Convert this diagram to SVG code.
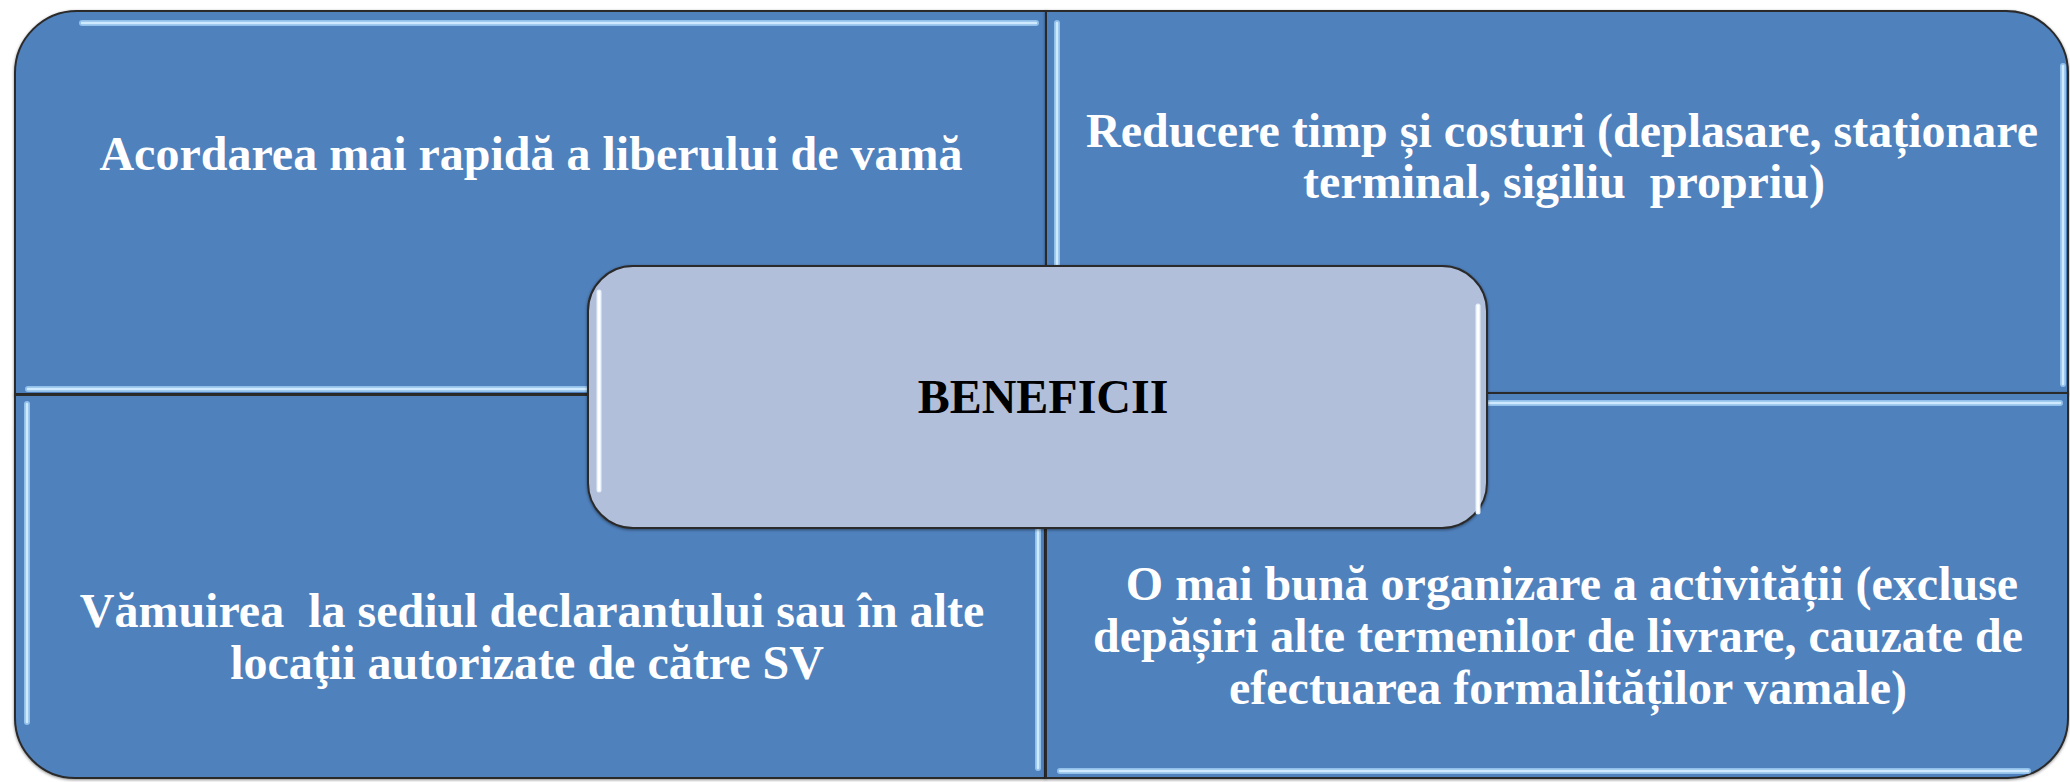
<svg xmlns="http://www.w3.org/2000/svg" width="2070" height="782" viewBox="0 0 2070 782">
  <defs>
    <style>
      .quad { fill: #4F81BD; stroke: #2a2a2a; stroke-width: 2; }
      .center { fill: #B2BFDA; stroke: #2a2a2a; stroke-width: 2; }
      .hl { stroke: #9CCBF2; stroke-width: 6; stroke-linecap: round; fill: none; stroke-opacity: 0.85; }
      .hlc { stroke: #CFEAFF; stroke-width: 2.5; stroke-linecap: round; fill: none; }
      .hlw { stroke: #E4F0FC; stroke-width: 5; stroke-linecap: round; fill: none; }
      .hlwc { stroke: #FFFFFF; stroke-width: 2.5; stroke-linecap: round; fill: none; }
      .t { font-family: "Liberation Serif", "Times New Roman", serif; font-weight: bold; font-size: 48px; fill: #FFFFFF; text-anchor: middle; }
      .tc { font-family: "Liberation Serif", "Times New Roman", serif; font-weight: bold; font-size: 48px; fill: #000000; text-anchor: middle; }
    </style>
    <filter id="sh" x="-5%" y="-5%" width="110%" height="110%">
      <feDropShadow dx="0" dy="1" stdDeviation="1.5" flood-color="#000000" flood-opacity="0.45"/>
    </filter>
  </defs>
  <rect width="2070" height="782" fill="#FFFFFF"/>

  <g id="node-tl">
    <path class="quad" filter="url(#sh)" d="M15,394 V73 A62,62 0 0 1 77,11 H1046 V394 Z"/>
    <line class="hl" x1="82" y1="23" x2="1036" y2="23"/>
    <line class="hlc" x1="82" y1="23" x2="1036" y2="23"/>
    <line class="hl" x1="28" y1="389" x2="1036" y2="389"/>
    <line class="hlc" x1="28" y1="389" x2="1036" y2="389"/>
    <text class="t" x="531" y="170">Acordarea mai rapidă a liberului de vamă</text>
  </g>

  <g id="node-tr">
    <path class="quad" filter="url(#sh)" d="M1046,11 H2006 A62,62 0 0 1 2068,73 V393 H1046 Z"/>
    <line class="hl" x1="1057" y1="23" x2="1057" y2="384"/>
    <line class="hlc" x1="1057" y1="23" x2="1057" y2="384"/>
    <line class="hl" x1="2063" y1="66" x2="2063" y2="384"/>
    <line class="hlc" x1="2063" y1="66" x2="2063" y2="384"/>
    <text class="t" x="1562" y="147">Reducere timp și costuri (deplasare, staționare</text>
    <text class="t" x="1564" y="198" xml:space="preserve">terminal, sigiliu  propriu)</text>
  </g>

  <g id="node-bl">
    <path class="quad" filter="url(#sh)" d="M15,395 H1045 V778 H75 A60,60 0 0 1 15,718 Z"/>
    <line class="hl" x1="27" y1="404" x2="27" y2="722"/>
    <line class="hlc" x1="27" y1="404" x2="27" y2="722"/>
    <line class="hl" x1="1038" y1="404" x2="1038" y2="768"/>
    <line class="hlc" x1="1038" y1="404" x2="1038" y2="768"/>
    <text class="t" x="532" y="627" xml:space="preserve">Vămuirea  la sediul declarantului sau în alte</text>
    <text class="t" x="527" y="679">locaţii autorizate de către SV</text>
  </g>

  <g id="node-br">
    <path class="quad" filter="url(#sh)" d="M1046,393 H2068 V718 A60,60 0 0 1 2008,778 H1046 Z"/>
    <line class="hl" x1="1060" y1="403" x2="2060" y2="403"/>
    <line class="hlc" x1="1060" y1="403" x2="2060" y2="403"/>
    <line class="hl" x1="1060" y1="771" x2="2028" y2="771"/>
    <line class="hlc" x1="1060" y1="771" x2="2028" y2="771"/>
    <text class="t" x="1572" y="600">O mai bună organizare a activității (excluse</text>
    <text class="t" x="1558" y="652">depășiri alte termenilor de livrare, cauzate de</text>
    <text class="t" x="1568" y="704">efectuarea formalităților vamale)</text>
  </g>

  <g id="node-center">
    <rect class="center" filter="url(#sh)" x="588" y="266" width="899" height="262" rx="45" ry="45"/>
    <line class="hlw" x1="599" y1="292" x2="599" y2="490"/>
    <line class="hlwc" x1="599" y1="292" x2="599" y2="490"/>
    <line class="hlw" x1="1478" y1="306" x2="1478" y2="512"/>
    <line class="hlwc" x1="1478" y1="306" x2="1478" y2="512"/>
    <text class="tc" x="1043" y="413">BENEFICII</text>
  </g>

  <g id="connectors"/>
</svg>
